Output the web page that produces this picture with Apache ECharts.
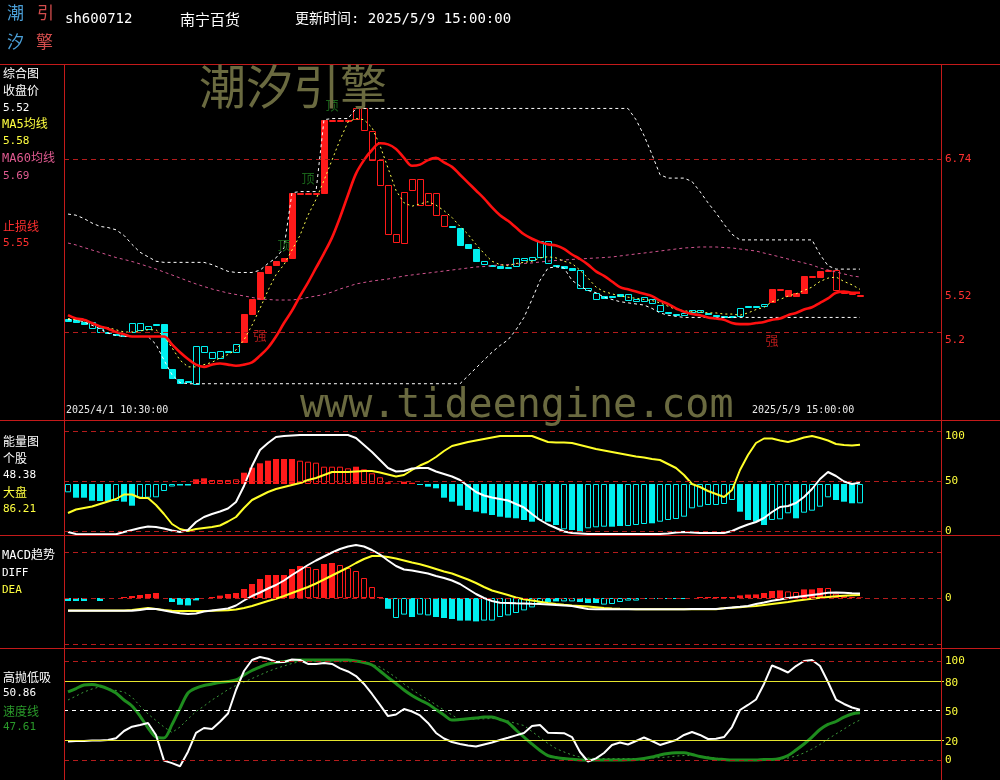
<!DOCTYPE html>
<html><head><meta charset="utf-8">
<script src="https://cdn.jsdelivr.net/npm/echarts@6/dist/echarts.min.js"></script>
<style>html,body{margin:0;padding:0;background:#000;}#c{width:1000px;height:780px;}</style>
</head><body><div id="c"></div>
<script>
// ---------- categories (60-minute bars) ----------
const tradingDays = ['2025/4/1','2025/4/2','2025/4/3','2025/4/7','2025/4/8','2025/4/9','2025/4/10','2025/4/11','2025/4/14','2025/4/15','2025/4/16','2025/4/17','2025/4/18','2025/4/21','2025/4/22','2025/4/23','2025/4/24','2025/4/25','2025/4/28','2025/4/29','2025/4/30','2025/5/6','2025/5/7','2025/5/8','2025/5/9'];
const barTimes = ['10:30:00','11:30:00','14:00:00','15:00:00'];
const emptySlots = 10;

// ---------- main panel (price) ----------
const kOpen = [
5.32,5.31,5.29,5.24,5.20,5.20,5.18,5.17,5.20,5.22,
5.22,5.27,5.27,4.87,4.78,4.76,4.74,5.03,4.97,4.97,
5.02,5.02,5.11,5.36,5.49,5.73,5.79,5.83,5.86,6.44,
6.44,6.44,6.44,7.09,7.09,7.09,7.19,7.19,6.99,6.73,
6.51,6.07,6.45,6.56,6.56,6.44,6.44,6.24,6.14,6.13,
5.98,5.94,5.80,5.80,5.79,5.77,5.79,5.84,5.84,5.87,
5.81,5.80,5.79,5.77,5.59,5.57,5.50,5.52,5.52,5.54,
5.49,5.47,5.47,5.45,5.39,5.38,5.36,5.35,5.38,5.38,
5.37,5.35,5.34,5.34,5.34,5.43,5.43,5.43,5.46,5.58,
5.52,5.52,5.55,5.70,5.69,5.75,5.75,5.56,5.55,5.53];
const kClose = [
5.30,5.29,5.27,5.29,5.24,5.19,5.17,5.16,5.28,5.28,
5.25,5.26,4.88,4.79,4.74,4.75,5.08,5.08,5.02,5.03,
5.03,5.09,5.36,5.49,5.73,5.79,5.83,5.86,6.44,6.44,
6.44,6.44,7.09,7.09,7.09,7.09,7.09,6.99,6.73,6.51,
6.07,6.00,6.00,6.46,6.33,6.33,6.24,6.14,6.13,5.98,
5.94,5.83,5.83,5.79,5.77,5.78,5.86,5.86,5.87,6.01,
6.01,5.79,5.77,5.75,5.75,5.59,5.55,5.50,5.51,5.52,
5.54,5.49,5.51,5.49,5.44,5.37,5.35,5.37,5.40,5.40,
5.36,5.34,5.33,5.34,5.41,5.42,5.42,5.45,5.58,5.58,
5.57,5.55,5.70,5.70,5.74,5.75,5.57,5.55,5.54,5.52];
// 1 = strong (red), 0 = weak (cyan)
const kTrend = [
0,0,0,0,0,0,0,0,0,0,
0,0,0,0,0,0,0,0,0,0,
0,0,1,1,1,1,1,1,1,1,
1,1,1,1,1,1,1,1,1,1,
1,1,1,1,1,1,1,1,0,0,
0,0,0,0,0,0,0,0,0,0,
0,0,0,0,0,0,0,0,0,0,
0,0,0,0,0,0,0,0,0,0,
0,0,0,0,0,0,0,0,1,1,
1,1,1,1,1,1,1,1,1,1];
const ma5 = [
5.32,5.31,5.30,5.28,5.25,5.24,5.22,5.20,5.20,5.21,
5.22,5.22,5.16,5.06,4.95,4.89,4.89,4.91,4.93,4.97,
5.00,5.04,5.13,5.26,5.41,5.57,5.71,5.80,5.93,6.06,
6.24,6.38,6.55,6.73,6.91,7.07,7.10,7.09,7.02,6.86,
6.66,6.46,6.35,6.32,6.34,6.36,6.33,6.28,6.22,6.14,
6.07,5.98,5.90,5.83,5.80,5.79,5.81,5.82,5.83,5.86,
5.87,5.86,5.83,5.81,5.75,5.68,5.60,5.56,5.54,5.52,
5.51,5.50,5.49,5.48,5.46,5.43,5.40,5.39,5.38,5.38,
5.37,5.37,5.36,5.36,5.35,5.37,5.40,5.42,5.47,5.49,
5.52,5.54,5.57,5.60,5.65,5.68,5.69,5.65,5.62,5.58];
const ma60 = [
5.992,5.975,5.952,5.930,5.908,5.886,5.863,5.846,5.828,5.806,
5.783,5.761,5.734,5.708,5.681,5.654,5.628,5.605,5.583,5.565,
5.547,5.534,5.521,5.508,5.494,5.490,5.485,5.485,5.485,5.494,
5.508,5.521,5.534,5.556,5.583,5.605,5.628,5.641,5.654,5.663,
5.672,5.685,5.699,5.708,5.717,5.725,5.734,5.743,5.752,5.761,
5.770,5.779,5.783,5.792,5.797,5.801,5.806,5.810,5.815,5.823,
5.832,5.837,5.841,5.846,5.850,5.855,5.859,5.863,5.868,5.877,
5.886,5.895,5.903,5.912,5.921,5.930,5.939,5.948,5.952,5.957,
5.957,5.957,5.952,5.948,5.939,5.930,5.921,5.903,5.886,5.868,
5.850,5.832,5.815,5.797,5.770,5.752,5.734,5.717,5.699,5.69];
const stopLine = [
5.35,5.32,5.31,5.28,5.25,5.23,5.20,5.18,5.16,5.16,
5.16,5.16,5.16,5.09,5.02,4.96,4.91,4.89,4.91,4.92,
4.91,4.90,4.91,4.93,4.99,5.06,5.16,5.28,5.39,5.52,
5.64,5.77,5.90,6.04,6.22,6.42,6.61,6.73,6.82,6.88,
6.87,6.83,6.75,6.68,6.69,6.73,6.75,6.71,6.67,6.60,
6.53,6.46,6.39,6.31,6.24,6.19,6.13,6.07,6.03,6.00,
5.98,5.97,5.94,5.89,5.85,5.80,5.74,5.70,5.65,5.60,
5.58,5.56,5.54,5.52,5.48,5.45,5.41,5.38,5.36,5.35,
5.33,5.32,5.31,5.28,5.27,5.27,5.28,5.29,5.31,5.32,
5.35,5.37,5.40,5.42,5.46,5.50,5.55,5.56,5.55,5.55];
const channelHigh = [
6.25,6.24,6.21,6.17,6.14,6.13,6.11,6.06,5.98,5.91,
5.87,5.83,5.82,5.82,5.82,5.82,5.82,5.82,5.80,5.77,
5.74,5.73,5.73,5.73,5.75,5.81,5.86,5.95,6.44,6.45,
6.45,6.45,7.09,7.10,7.10,7.10,7.19,7.19,7.19,7.19,
7.19,7.19,7.19,7.19,7.19,7.19,7.19,7.19,7.19,7.19,
7.19,7.19,7.19,7.19,7.19,7.19,7.19,7.19,7.19,7.19,
7.19,7.19,7.19,7.19,7.19,7.19,7.19,7.19,7.19,7.19,
7.19,7.09,6.95,6.78,6.60,6.57,6.57,6.57,6.54,6.45,
6.35,6.26,6.16,6.07,6.02,6.02,6.02,6.02,6.02,6.02,
6.02,6.02,6.02,6.02,5.89,5.79,5.76,5.76,5.76,5.76];
const channelLow = [
5.31,5.31,5.29,5.26,5.23,5.19,5.17,5.16,5.16,5.16,
5.16,5.09,4.95,4.82,4.75,4.74,4.74,4.74,4.74,4.74,
4.74,4.74,4.74,4.74,4.74,4.74,4.74,4.74,4.74,4.74,
4.74,4.74,4.74,4.74,4.74,4.74,4.74,4.74,4.74,4.74,
4.74,4.74,4.74,4.74,4.74,4.74,4.74,4.74,4.74,4.74,
4.81,4.88,4.95,5.02,5.08,5.13,5.22,5.33,5.49,5.66,
5.77,5.78,5.77,5.66,5.61,5.57,5.55,5.51,5.49,5.47,
5.46,5.45,5.44,5.41,5.37,5.35,5.34,5.33,5.33,5.33,
5.33,5.33,5.33,5.33,5.33,5.33,5.33,5.33,5.33,5.33,
5.33,5.33,5.33,5.33,5.33,5.33,5.33,5.33,5.33,5.33];
const topMarkIdx = [27, 30, 33];
const topMarkPrice = [5.97, 6.57, 7.22];
const strongMarkIdx = [24, 88];
const strongMarkPrice = [5.17, 5.13];
const mainTicks = [6.74, 5.52, 5.2];     // right-hand labels
const mainGuides = [6.74, 5.2];          // dashed guide lines

// ---------- energy panel ----------
const energyStock = [
-1,-3,-3.3,-3.3,-3.3,-3.3,-3.3,-1,1,3,
4.5,4,2.5,0.5,-1,1,9,14,17,19.5,
22.5,29,45,65,81,88,94,95,95.5,96,
96,96,96,96,96,96,93,86,79,71,
63,59.5,60,62.5,63,63,59.5,57,54.5,51,
45,39,35.5,33.5,32,30.5,27,23.5,17,11,
6.5,3,-0.5,-2,-2.5,-3,-3,-3,-3,-3,
-3,-3,-3,-3,-3,-2.5,-1.5,-1,-1.5,-2,
-2,-2,-2,0,3.5,6.5,9,13,19,24,
25,28,34,42,52,59,55,49.5,47,48.38];
const energyMarket = [
18,21.5,23,24.5,27,29.5,32,36.5,36.5,33,
33,26,17,7,2,0,2,3,4,5.5,
9.5,14,23,31,35,39,42,44,46,48,
51,53,56,59,59,59,59.5,60,60,58.5,
56.5,54.5,56,61,65.5,69,74,80,85,87,
89,90.5,92,93.5,95,95,95,95,95,92,
89,88.5,88.5,88,86,84,82,80.5,79,77.5,
76,74.5,73.5,72,71,67,63,56,47,44,
40,37,34,41,61,76,88,92.5,92.5,90.5,
89,91,93.5,95,93,90.5,87,86,85.5,86.21];
const ENERGY_BASE = 47;
const energyBarTop = [
38.7,33.3,33.3,30.3,30,30,30,29.3,25.3,33.3,
33.3,33.7,40,44.5,45.5,45.5,51.7,52.7,51,51,
51,51.7,58.3,63.3,67.7,70.3,72,72,72,70.3,
69.3,68.3,64.3,64.3,64.3,62.7,64.3,61.7,57.7,53.7,
48.7,47.5,49.3,48.3,46,44.3,42.7,33.3,29.3,25.3,
21,19.3,17.7,16,14.3,13.3,12.7,11,9.3,11,
9.3,6,1.7,1,-0.7,2.7,3.7,4.3,4.3,5,
5,6,7,7.7,9.3,11,12,14.3,22.7,24.3,
26,26,27,31,19.3,11,9.3,6,11,11.7,
17.7,12.7,18.3,20.3,24.3,33.7,31,29.3,27.7,27.7];
const energyBarFill = [
0,1,1,1,1,1,0,1,1,0,
0,0,0,0,1,1,1,1,0,0,
0,0,1,1,1,1,1,1,1,0,
0,0,0,0,0,0,1,0,0,0,
0,1,1,1,1,1,1,1,1,1,
1,1,1,1,1,1,1,1,1,0,
1,1,0,1,1,0,0,0,1,1,
0,0,0,1,0,0,0,0,0,0,
0,0,0,0,1,1,1,1,0,0,
0,1,0,0,0,0,1,1,1,0];
const energyTicks = [100, 50, 0];

// ---------- MACD panel ----------
const macdBar = [
-0.015,-0.015,-0.015,0,-0.015,0,0,0.005,0.01,0.015,
0.02,0.025,0,-0.02,-0.034,-0.037,-0.012,0,0.005,0.012,
0.02,0.025,0.045,0.07,0.095,0.115,0.115,0.115,0.145,0.16,
0.155,0.145,0.17,0.175,0.165,0.15,0.135,0.1,0.055,0.005,
-0.054,-0.1,-0.083,-0.095,-0.083,-0.087,-0.095,-0.1,-0.105,-0.113,
-0.113,-0.117,-0.113,-0.113,-0.095,-0.087,-0.075,-0.062,-0.047,-0.025,
-0.02,-0.017,-0.017,-0.017,-0.02,-0.025,-0.025,-0.033,-0.03,-0.02,
-0.013,-0.013,-0.005,-0.005,-0.005,-0.005,-0.005,-0.005,0,0.005,
0.005,0.005,0.005,0.005,0.013,0.017,0.018,0.025,0.035,0.038,
0.033,0.03,0.043,0.043,0.05,0.05,0.022,0.013,0.005,0.003];
const macdBarFill = [
1,1,1,1,1,1,1,1,1,1,
1,1,1,1,1,1,1,1,1,1,
1,1,1,1,1,1,1,1,1,1,
0,0,1,1,0,0,0,0,0,1,
1,0,0,1,0,0,1,1,1,1,
1,1,0,0,0,0,0,0,0,0,
1,1,0,0,1,1,1,0,0,0,
0,0,1,1,1,1,1,1,1,1,
1,1,1,1,1,1,1,1,1,1,
0,0,1,1,1,0,0,0,0,1];
const diff = [
-0.0635,-0.0635,-0.0635,-0.0635,-0.0635,-0.0635,-0.0635,-0.0635,-0.0635,-0.06,
-0.0535,-0.055,-0.0625,-0.07,-0.0765,-0.08,-0.0775,-0.0675,-0.0625,-0.0575,
-0.0525,-0.0375,-0.0125,0.01,0.0275,0.0475,0.065,0.0875,0.115,0.14,
0.165,0.1875,0.2075,0.2275,0.245,0.2575,0.265,0.2575,0.24,0.2175,
0.1875,0.16,0.1425,0.1375,0.13,0.1225,0.11,0.1,0.0875,0.07,
0.045,0.02,0,-0.015,-0.0235,-0.025,-0.0265,-0.0275,-0.029,-0.03,
-0.0325,-0.035,-0.0375,-0.04,-0.0475,-0.055,-0.0565,-0.0565,-0.0565,-0.0565,
-0.0565,-0.0565,-0.0565,-0.0565,-0.0565,-0.0565,-0.0565,-0.0565,-0.055,-0.055,
-0.055,-0.055,-0.0515,-0.0475,-0.044,-0.04,-0.03,-0.0225,-0.0135,-0.0075,
0,0.005,0.01,0.015,0.02,0.026,0.0275,0.026,0.024,0.0225];
const dea = [
-0.0625,-0.0625,-0.0625,-0.0625,-0.0625,-0.0625,-0.0625,-0.0625,-0.06,-0.055,
-0.05,-0.055,-0.06,-0.0635,-0.065,-0.065,-0.065,-0.065,-0.064,-0.0625,
-0.061,-0.0575,-0.05,-0.04,-0.0275,-0.015,-0.004,0.01,0.025,0.04,
0.055,0.0725,0.0925,0.1125,0.1325,0.1525,0.175,0.195,0.21,0.21,
0.205,0.1975,0.1875,0.1775,0.1685,0.1575,0.145,0.1325,0.1225,0.1075,
0.0925,0.075,0.055,0.0375,0.0265,0.015,0.0025,-0.0065,-0.0125,-0.019,
-0.025,-0.03,-0.034,-0.0375,-0.04,-0.043,-0.0465,-0.05,-0.0525,-0.054,
-0.055,-0.0565,-0.0565,-0.0565,-0.0565,-0.0565,-0.0565,-0.0565,-0.0565,-0.0565,
-0.0565,-0.0565,-0.0515,-0.049,-0.046,-0.0425,-0.04,-0.035,-0.03,-0.025,
-0.02,-0.014,-0.009,-0.004,0.0015,0.005,0.0085,0.0115,0.0135,0.015];
const macdTicks = [0];
const macdGuides = [0.235, 0, -0.235];

// ---------- high-sell / low-buy panel ----------
const gdLine = [
18.7,19.2,19.2,19.7,19.7,20.2,22,29.3,33.6,35.4,
37.4,25.3,-0.6,-3.2,-6.3,8.4,27.3,32.3,31.3,38.7,
47,70.7,89.9,101,104,102.3,99,99,101.5,101,
97,97,98,97,92.6,89.4,84.8,76.8,66.7,55.6,
44.4,46,51.5,49,45,37.4,27.3,21.7,18.2,16.2,
14.6,13.6,15.7,17.7,20.2,22.4,24.9,27.3,34.3,35.4,
27.5,27.3,27.1,23.2,8.1,-1.5,1.7,7.1,15.2,17.7,
15.7,19.2,22.7,19.2,15.2,17.7,20.2,25.3,28.3,25.3,
21.2,21.5,23.2,33.3,50.5,55.6,61.1,76.8,95.5,92.2,
88.4,94.9,100,101,95,78.8,61.1,56.6,53,50.86];
const speedLine = [
68.7,72.2,75.8,76.3,74.7,71.9,67.7,60.6,54.5,44.4,
32.5,23.2,22.3,35.7,52.2,67.7,72.7,75.3,76.8,78.3,
79.3,80.8,85.9,90.4,93.9,97,98.5,99.5,100.5,101,
101,101,101,101,101,101,100,98.5,96,89.9,
83.3,77.3,70.7,65.2,60.6,56.6,51,45.5,40.4,40.9,
41.6,42.4,43.4,43.4,40.9,37.9,30.3,23,16.2,9.6,
4.5,2.5,1.5,0.8,0,0,0,0,0,0,
0.2,0.6,1.5,3,5.1,6.6,7.3,7.4,5.6,3.5,
2,1,0.5,0,0,0,0,0.5,0.5,1.5,
4.5,10.1,16.2,23.2,30.8,35.9,38.9,43.4,46.5,47.61];
const speedSignal = [
60.6,64.6,68.7,71.7,74,72.2,70.2,68.7,63.6,54.5,
46.5,39.9,33.3,27.8,33.3,41.4,49,54.5,60.6,65.7,
71.2,75.3,78.8,82.3,85.9,89.4,92.4,95,97.5,99.3,
99.3,99.3,99.3,99.3,99.3,99.3,99.3,99.3,96.5,93.9,
88.9,83.3,76.8,71.2,65.7,61.1,55.6,50.5,45.5,40.4,
40.9,41.4,41.6,41.9,41.4,39.4,36.9,34.8,28.8,22.7,
16.7,11.6,8.1,5.1,3,2,1.5,1.5,1.4,1.5,
1.5,1.5,1.5,2,2.5,3,4,4.5,4.5,4,
3,2,0.5,0.5,0.5,0.5,0.5,0.5,0.5,1,
2,4,7.1,11.1,15.7,21.2,26.3,31.3,36.4,40.4];
const gdTicks = [100, 80, 50, 20, 0];

// ---------- build ----------
const categories = [];
tradingDays.forEach(d => barTimes.forEach(t => categories.push(d + ' ' + t)));
for (let k = 1; k <= emptySlots; k++) categories.push('+' + k);

const RED = '#ff1a1a', CYAN = '#00f0f0', HOLLOW = 'rgba(0,0,0,0)';
const GRIDRED = '#b41c1c', FRAME = '#c41a1a', YEL = '#ffff3c';
const MONO = 'DejaVu Sans Mono', CJK = 'Noto Sans CJK SC';

// candle bodies: red = filled when rising, cyan = filled when falling
const kData = kOpen.map((o, i) => [i, o, kClose[i], kTrend[i]]);
function renderCandle(params, api) {
  const i = api.value(0), o = api.value(1), c = api.value(2), strong = api.value(3);
  const po = api.coord([i, o]), pc = api.coord([i, c]);
  const w = Math.round(api.size([1, 0])[0] * 0.75);
  const col = strong ? RED : CYAN;
  const filled = strong ? c > o : c < o;
  const top = Math.round(Math.min(po[1], pc[1]));
  const h = Math.max(1, Math.round(Math.abs(po[1] - pc[1])));
  return { type: 'rect',
    shape: { x: Math.round(po[0] - w / 2) + 0.5, y: top + 0.5, width: w, height: h },
    style: { fill: filled ? col : HOLLOW, stroke: col, lineWidth: 1 } };
}
const energyBars = energyBarTop.map((v, i) => {
  const col = v >= ENERGY_BASE ? RED : CYAN, f = energyBarFill[i];
  return { value: v - ENERGY_BASE, itemStyle: { color: f ? col : HOLLOW, borderColor: col, borderWidth: f ? 0 : 1 } };
});
const macdBars = macdBar.map((v, i) => {
  const col = v >= 0 ? RED : CYAN, f = macdBarFill[i];
  return { value: v, itemStyle: { color: f ? col : HOLLOW, borderColor: col, borderWidth: f ? 0 : 1 } };
});

// label text; "drop" lowers the label under its guide line by drop/2 px (empty first line)
function labelText(v, drop) { return drop ? ' \n' + String(v) : String(v); }
function guide(value, color, type, text, labelColor, drop) {
  return { yAxis: value,
    lineStyle: { color: color || 'rgba(0,0,0,0)', type: type, width: 1 },
    label: { show: text !== null, formatter: text === null ? '' : labelText(text, drop), position: 'end', distance: 1,
      color: labelColor, fontFamily: MONO, fontSize: 11, lineHeight: drop || 12 } };
}
const DASH = [5, 4];
const mainML = mainTicks.map(v => guide(v, mainGuides.indexOf(v) >= 0 ? GRIDRED : null, DASH, v, '#ff3030', v === 5.2 ? 16 : 0));
const energyML = energyTicks.map(v => guide(v, GRIDRED, DASH, v, YEL, v === 100 ? 11 : 0));
const macdML = macdGuides.map(v => guide(v, GRIDRED, DASH, macdTicks.indexOf(v) >= 0 ? v : null, YEL, 0));
const gdStyle = { 100: [GRIDRED, DASH], 80: ['#e6e62e', 'solid'], 50: ['#ffffff', [4, 4]], 20: ['#e6e62e', 'solid'], 0: [GRIDRED, DASH] };
const gdML = gdTicks.map(v => guide(v, gdStyle[v][0], gdStyle[v][1], v, YEL, (v === 80 || v === 50 || v === 20) ? 4 : 0));

function ml(data) { return { silent: true, symbol: ['none', 'none'], animation: false, data: data }; }
function line(name, data, xi, yi, color, width, type, extra) {
  return Object.assign({ type: 'line', name, data, xAxisIndex: xi, yAxisIndex: yi, showSymbol: false, symbol: 'none',
    lineStyle: { color, width, type }, itemStyle: { color }, silent: true }, extra || {});
}
function marks(name, idx, price, text, color) {
  return { type: 'scatter', name, xAxisIndex: 0, yAxisIndex: 0, symbolSize: 1, itemStyle: { color: HOLLOW },
    data: idx.map((x, i) => [x, price[i]]), z: 3,
    label: { show: true, position: 'inside', formatter: text, color, fontFamily: CJK, fontSize: 13 } };
}

const series = [
  { type: 'custom', name: 'K', data: kData, xAxisIndex: 0, yAxisIndex: 0, renderItem: renderCandle,
    encode: { x: 0, y: [1, 2] }, silent: true, clip: true },
  line('MA60均线', ma60, 0, 0, '#d2548f', 1, [3, 3], { markLine: ml(mainML) }),
  line('上轨', channelHigh, 0, 0, '#ffffff', 1, [3, 3]),
  line('下轨', channelLow, 0, 0, '#ffffff', 1, [3, 3]),
  line('MA5均线', ma5, 0, 0, '#ffff50', 1, [2, 3]),
  line('止损线', stopLine, 0, 0, '#ff1010', 2.6, 'solid', { smooth: 0.35 }),
  marks('顶', topMarkIdx, topMarkPrice, '顶', '#1f7a1f'),
  marks('强', strongMarkIdx, strongMarkPrice, '强', '#e02020'),
  { type: 'bar', name: '能量柱', data: energyBars, xAxisIndex: 1, yAxisIndex: 2, barWidth: 6, silent: true },
  line('大盘', energyMarket, 1, 1, '#ffff28', 2, 'solid'),
  line('个股', energyStock, 1, 1, '#ffffff', 2, 'solid', { markLine: ml(energyML) }),
  { type: 'bar', name: 'MACD', data: macdBars, xAxisIndex: 2, yAxisIndex: 3, barWidth: 6, silent: true },
  line('DEA', dea, 2, 3, '#ffff28', 2, 'solid'),
  line('DIFF', diff, 2, 3, '#ffffff', 2, 'solid', { markLine: ml(macdML) }),
  line('信号', speedSignal, 3, 4, '#3c9a3c', 1, [2, 3]),
  line('速度线', speedLine, 3, 4, '#1e8c1e', 3, 'solid', { smooth: 0.3 }),
  line('高抛低吸', gdLine, 3, 4, '#ffffff', 2, 'solid', { markLine: ml(gdML) })
];

// ---------- text & frame ----------
function txt(x, y, text, color, size, family, align) {
  return { type: 'text', x, y, z: 100, silent: true,
    style: { text, fill: color, fontSize: size, fontFamily: family, align: align || 'left', verticalAlign: 'middle' } };
}
function hl(y) { return { type: 'line', z: 90, silent: true, shape: { x1: 0, y1: y, x2: 1000, y2: y }, style: { stroke: FRAME, lineWidth: 1 } }; }
function vl(x) { return { type: 'line', z: 90, silent: true, shape: { x1: x, y1: 64, x2: x, y2: 780 }, style: { stroke: FRAME, lineWidth: 1 } }; }
const MIX = MONO + ', ' + CJK;
const last = a => a[a.length - 1].toFixed(2);
const graphic = [
  hl(64.5), hl(420.5), hl(535.5), hl(648.5), vl(64.5), vl(941.5),
  txt(7, 13, '潮', '#4a9ed6', 17, CJK), txt(37, 13, '引', '#d24c4c', 17, CJK),
  txt(7, 42, '汐', '#4a9ed6', 17, CJK), txt(36, 42, '擎', '#d24c4c', 17, CJK),
  txt(65, 19, 'sh600712', '#ffffff', 14, MIX), txt(180, 19, '南宁百货', '#ffffff', 15, CJK),
  txt(295, 19, '更新时间: ' + tradingDays[tradingDays.length - 1] + ' ' + barTimes[barTimes.length - 1], '#ffffff', 14, MIX),
  txt(3, 73, '综合图', '#ffffff', 12, CJK), txt(3, 90, '收盘价', '#ffffff', 12, CJK),
  txt(3, 108, last(kClose), '#ffffff', 11, MONO),
  txt(2, 124.5, 'MA5均线', '#ffff40', 12, MIX), txt(3, 141, last(ma5), '#ffff40', 11, MONO),
  txt(2, 159, 'MA60均线', '#e05a90', 12, MIX), txt(3, 176, last(ma60), '#e05a90', 11, MONO),
  txt(3, 226.5, '止损线', '#ff3030', 12, CJK), txt(3, 243, last(stopLine), '#ff3030', 11, MONO),
  txt(3, 441, '能量图', '#ffffff', 12, CJK), txt(3, 458, '个股', '#ffffff', 12, CJK),
  txt(3, 475, last(energyStock), '#ffffff', 11, MONO), txt(3, 492, '大盘', '#ffff40', 12, CJK),
  txt(3, 509, last(energyMarket), '#ffff40', 11, MONO),
  txt(2, 556, 'MACD趋势', '#ffffff', 12, MIX), txt(2, 573, 'DIFF', '#ffffff', 11, MONO), txt(2, 590, 'DEA', '#ffff40', 11, MONO),
  txt(3, 677, '高抛低吸', '#ffffff', 12, CJK), txt(3, 693.5, last(gdLine), '#ffffff', 11, MONO),
  txt(3, 711, '速度线', '#2a9a2a', 12, CJK), txt(3, 727.5, last(speedLine), '#2a9a2a', 11, MONO),
  txt(66, 410, categories[0], '#e8e8e8', 10, MONO),
  txt(752, 410, categories[tradingDays.length * barTimes.length - 1], '#e8e8e8', 10, MONO),
  txt(199, 86, '潮汐引擎', '#6a6a40', 47, CJK),
  txt(300, 407, 'www.tideengine.com', '#6a6a40', 40, MONO)
];

const gridBox = (top, height) => ({ left: 64, top, width: 880, height, outerBoundsMode: 'none' });
const option = {
  backgroundColor: '#000000',
  animation: false,
  grid: [gridBox(64, 356), gridBox(420, 115), gridBox(535, 113), gridBox(648, 132)],
  xAxis: [0, 1, 2, 3].map(g => ({ type: 'category', gridIndex: g, data: categories, show: false, boundaryGap: true })),
  yAxis: [
    { gridIndex: 0, min: 4.4171, max: 7.5855, show: false },
    { gridIndex: 1, min: -4, max: 111, show: false },
    { gridIndex: 1, min: -4 - ENERGY_BASE, max: 111 - ENERGY_BASE, show: false },
    { gridIndex: 2, min: -0.25, max: 0.315, show: false },
    { gridIndex: 3, min: -20.2, max: 113.13, show: false }
  ],
  series,
  graphic
};
const chart = echarts.init(document.getElementById('c'), null, { renderer: 'canvas', width: 1000, height: 780 });
chart.setOption(option);
</script></body></html>
